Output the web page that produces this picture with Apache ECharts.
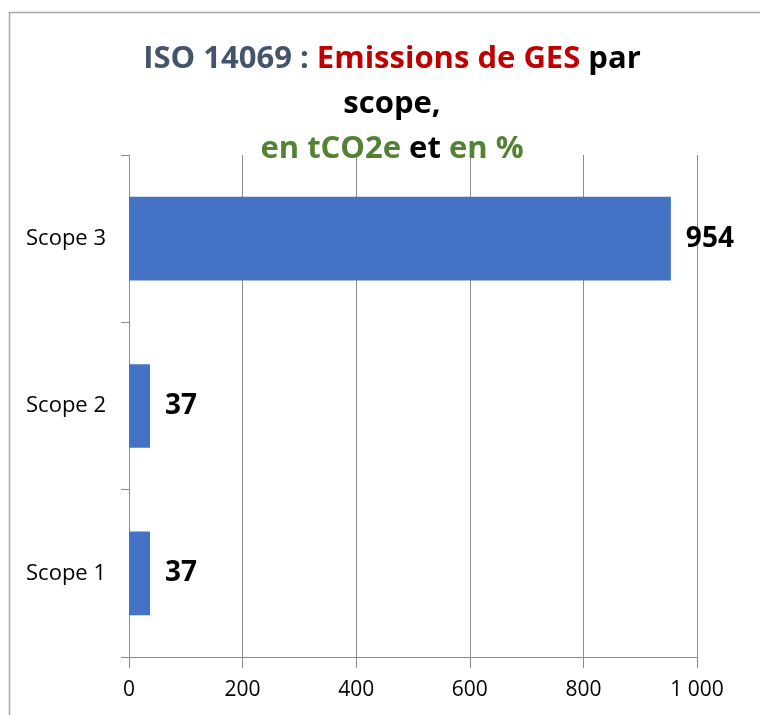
<!DOCTYPE html>
<html>
<head>
<meta charset="utf-8">
<script src="https://cdn.jsdelivr.net/npm/echarts@6/dist/echarts.min.js"></script>
<style>
  html, body, #main { width: 760px; height: 715px; margin: 0; background: #fff; }
</style>
</head>
<body>
<div id="main"></div>
<script>
// data
var categories = ['Scope 1', 'Scope 2', 'Scope 3'];
var emissions = [37, 37, 954];
var xTicks = [0, 200, 400, 600, 800, 1000];

var font = 'Open Sans';
var grey = '#8c8c8c';

var myChart = echarts.init(document.getElementById('main'));

myChart.setOption({
    backgroundColor: '#fff',
    animation: false,
    graphic: [{
        type: 'rect',
        left: 7, top: 10,
        shape: { width: 800, height: 800 },
        style: { fill: 'none', stroke: '#a6a6a6', lineWidth: 1.5 },
        silent: true
    }],
    title: {
        left: 387,
        textAlign: 'center',
        top: 32,
        text: '{a|ISO 14069 : }{b|Emissions de GES}{c| par}\n{c|scope,}\n{d|en tCO2e}{c| et }{d|en %}',
        textStyle: {
            rich: {
                a: { color: '#44546a', fontFamily: font, fontWeight: 'bold', fontSize: 31, lineHeight: 45 },
                b: { color: '#c00000', fontFamily: font, fontWeight: 'bold', fontSize: 31, lineHeight: 45 },
                c: { color: '#000', fontFamily: font, fontWeight: 'bold', fontSize: 31, lineHeight: 45 },
                d: { color: '#548235', fontFamily: font, fontWeight: 'bold', fontSize: 31, lineHeight: 45 }
            }
        }
    },
    grid: { left: 129, right: 63, top: 155, bottom: 58 },
    xAxis: {
        type: 'value',
        min: 0, max: 1000, interval: 200,
        axisLine: { show: true, lineStyle: { color: grey, width: 1 } },
        axisTick: { show: true, length: 11, lineStyle: { color: grey } },
        splitLine: { show: true, lineStyle: { color: grey, width: 1 } },
        axisLabel: {
            margin: 23,
            color: '#000',
            fontFamily: font,
            fontSize: 21,
            formatter: function (v) {
                return String(v).replace(/\B(?=(\d{3})+(?!\d))/g, ' ');
            }
        }
    },
    yAxis: {
        type: 'category',
        data: categories,
        axisLine: { show: true, lineStyle: { color: grey, width: 1 } },
        axisTick: { show: true, length: 8, lineStyle: { color: grey } },
        axisLabel: { margin: 23, color: '#000', fontFamily: font, fontSize: 22 }
    },
    series: [{
        type: 'bar',
        data: emissions,
        barWidth: '50%',
        itemStyle: { color: '#4472c4' },
        label: {
            show: true,
            position: 'right',
            distance: 15,
            color: '#000',
            fontFamily: font,
            fontWeight: 'bold',
            fontSize: 28
        }
    }]
});
</script>
</body>
</html>
